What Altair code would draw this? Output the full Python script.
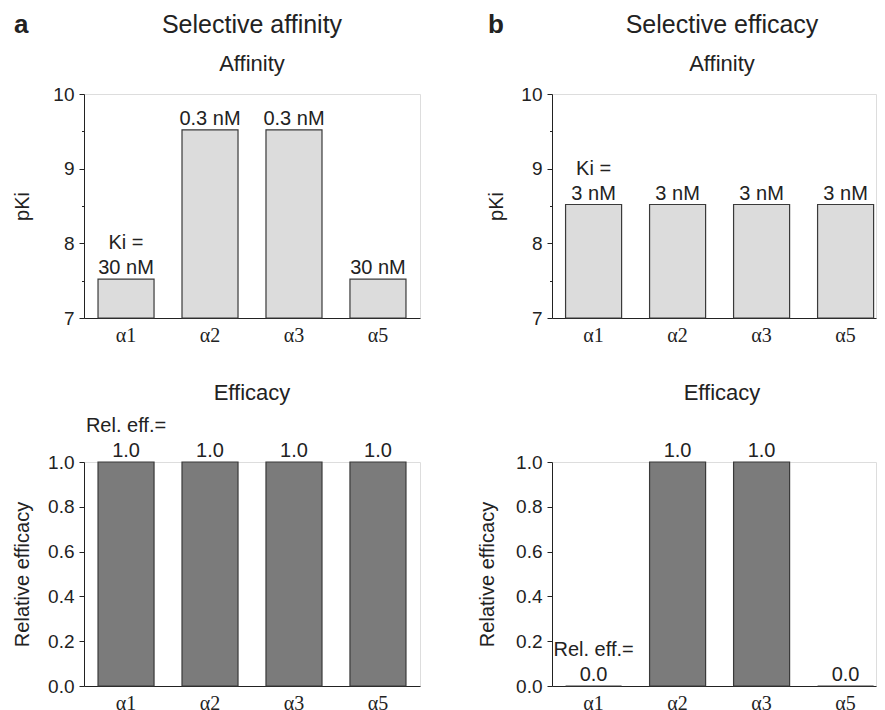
import altair as alt
import pandas as pd

receptors = ["α1", "α2", "α3", "α5"]

# Selective affinity (panel a)
pki_a = [7.52, 9.52, 9.52, 7.52]
ki_lbl_a = ["30 nM", "0.3 nM", "0.3 nM", "30 nM"]
ki_pre_a = ["Ki =", "", "", ""]
eff_a = [1.0, 1.0, 1.0, 1.0]
eff_lbl_a = ["1.0", "1.0", "1.0", "1.0"]
eff_pre_a = ["Rel. eff.=", "", "", ""]

# Selective efficacy (panel b)
pki_b = [8.52, 8.52, 8.52, 8.52]
ki_lbl_b = ["3 nM", "3 nM", "3 nM", "3 nM"]
ki_pre_b = ["Ki =", "", "", ""]
eff_b = [0.0, 1.0, 1.0, 0.0]
eff_lbl_b = ["0.0", "1.0", "1.0", "0.0"]
eff_pre_b = ["Rel. eff.=", "", "", ""]

pki_ticks = [7, 7.5, 8, 8.5, 9, 9.5, 10]
eff_ticks = [0, 0.2, 0.4, 0.6, 0.8, 1.0]

SANS = "Liberation Sans"
SERIF = "Liberation Serif"
INK = "#222222"
LIGHT = "#dcdcdc"
DARK = "#7b7b7b"


def note(text, x, y, size, weight="normal", align="center"):
    return alt.Chart(pd.DataFrame({"t": [text]})).mark_text(
        align=align, baseline="alphabetic", fontSize=size, fontWeight=weight,
        font=SANS, color=INK).encode(text="t:N", x=alt.value(x), y=alt.value(y))


def panel(values, labels, prefixes, fill, ydomain, yticks, ytitle, width,
          height, titlex, notes, pad_outer=0.167, align=0.5, minor=False,
          fmt=".1f"):
    df = pd.DataFrame({"rec": receptors, "v": values, "lbl": labels,
                       "pre": prefixes})
    x = alt.X(
        "rec:N", sort=receptors, title=None,
        scale=alt.Scale(paddingInner=0.333, paddingOuter=pad_outer, align=align),
        axis=alt.Axis(labelAngle=0, ticks=False, labelFont=SERIF,
                      labelFontSize=20, labelPadding=7, labelColor=INK,
                      domainColor=INK, domainWidth=1),
    )
    axis_kw = dict(values=yticks, grid=False, labelFont=SANS, labelFontSize=19,
                   labelColor=INK, labelPadding=5, tickColor=INK,
                   domainColor=INK, titleFont=SANS, titleFontSize=20,
                   titleFontWeight="normal", titleColor=INK, titleX=titlex,
                   format=fmt)
    if minor:
        axis_kw["labelExpr"] = "datum.value % 1 === 0 ? datum.label : ''"
        axis_kw["tickSize"] = {"condition": {"test": "datum.value % 1 !== 0",
                                             "value": 2.5}, "value": 5}
    else:
        axis_kw["tickSize"] = 5
    y = alt.Y("v:Q", title=ytitle,
              scale=alt.Scale(domain=ydomain, nice=False, zero=False),
              axis=alt.Axis(**axis_kw))
    base = alt.Chart(df)
    bars = base.mark_bar(fill=fill, stroke="#3a3a3a", strokeWidth=1.2).encode(
        x=x, y=y, y2=alt.datum(ydomain[0]))
    text = base.mark_text(baseline="alphabetic", dy=-5, fontSize=20, font=SANS,
                          color=INK).encode(x=x, y=y, text="lbl:N")
    pre = base.mark_text(baseline="alphabetic", dy=-30, fontSize=20, font=SANS,
                         color=INK).encode(x=x, y=y, text="pre:N")
    return alt.layer(bars, text, pre, *notes).properties(width=width,
                                                         height=height)


W_L, W_R, H = 336, 324, 224
C_L = W_L / 2
C_R = 170  # centre of the right-hand titles

top_a = panel(pki_a, ki_lbl_a, ki_pre_a, LIGHT, [7, 10], pki_ticks, "pKi",
              W_L, H, -52,
              [note("a", -70, -61, 26, "bold", "left"),
               note("Selective affinity", C_L, -61, 25),
               note("Affinity", C_L, -23, 22)],
              minor=True, fmt=".0f")
top_b = panel(pki_b, ki_lbl_b, ki_pre_b, LIGHT, [7, 10], pki_ticks, "pKi",
              W_R, H, -46,
              [note("b", -64, -61, 26, "bold", "left"),
               note("Selective efficacy", C_R, -61, 25),
               note("Affinity", C_R, -23, 22)],
              pad_outer=0.095, align=0.85, minor=True, fmt=".0f")
bot_a = panel(eff_a, eff_lbl_a, eff_pre_a, DARK, [0, 1], eff_ticks,
              "Relative efficacy", W_L, H, -52,
              [note("Efficacy", C_L, -62, 22)])
bot_b = panel(eff_b, eff_lbl_b, eff_pre_b, DARK, [0, 1], eff_ticks,
              "Relative efficacy", W_R, H, -55,
              [note("Efficacy", C_R, -62, 22)], pad_outer=0.095, align=0.85)

chart = alt.concat(top_a, top_b, bot_a, bot_b, columns=2,
                   spacing={"row": 144, "column": 132}, bounds="flush").properties(
    padding={"left": 3, "top": 3, "right": 0, "bottom": 0}
).configure_view(stroke=None).configure(background="white")

chart.save("out.html", embed_options={"renderer": "svg", "actions": False})
